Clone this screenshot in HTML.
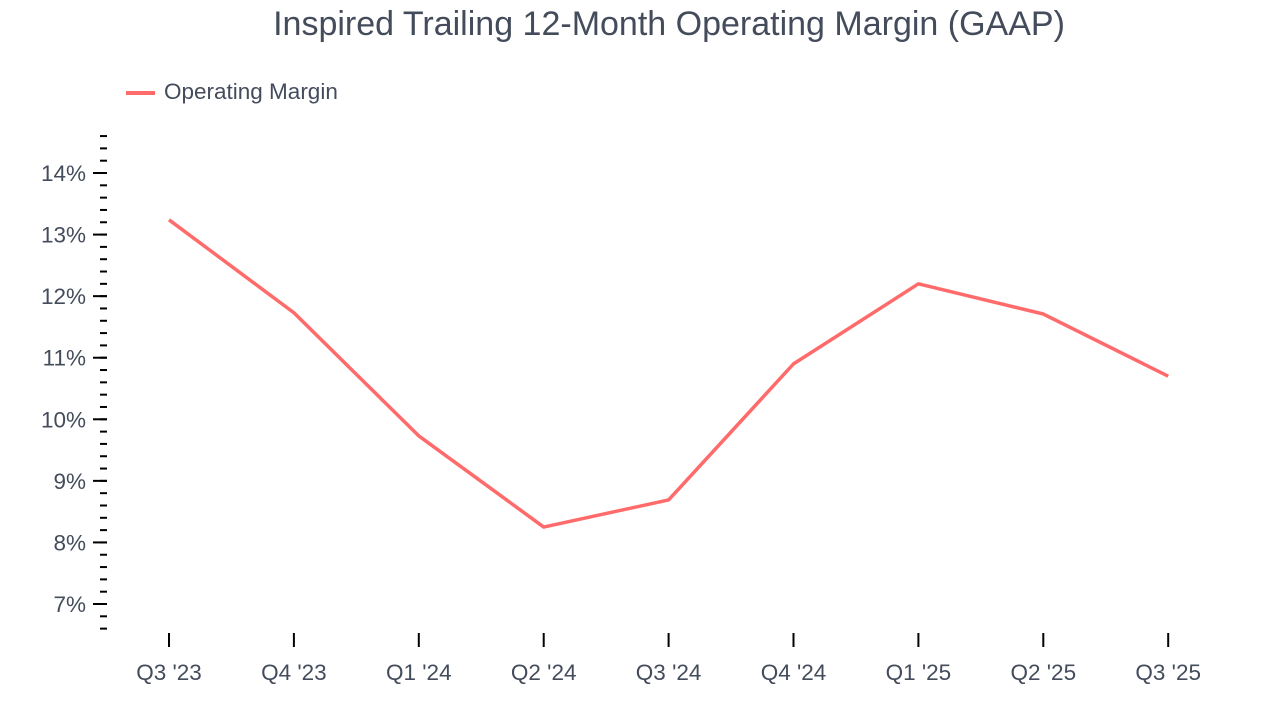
<!DOCTYPE html>
<html><head><meta charset="utf-8"><style>
body{margin:0;background:#fff;font-family:"Liberation Sans",Arial,sans-serif}
svg text{font-family:"Liberation Sans",Arial,sans-serif;fill:#444c5c}
</style></head><body>
<svg id="c" width="1280" height="720">
<text x="669" y="35" font-size="34" text-anchor="middle">Inspired Trailing 12-Month Operating Margin (GAAP)</text>
<g>
<line x1="126" y1="93" x2="155" y2="93" stroke="#ff6b6b" stroke-width="4"/>
<text x="164" y="99" font-size="22.5">Operating Margin</text>
</g>
<g id="yaxis"></g>
<g id="xaxis"></g>
<path id="line" fill="none" stroke="#ff6b6b" stroke-width="3.5" stroke-linejoin="round"/>
</svg>
<script>
const categories=["Q3 '23","Q4 '23","Q1 '24","Q2 '24","Q3 '24","Q4 '24","Q1 '25","Q2 '25","Q3 '25"];
const marginValues=[13.24,11.73,9.73,8.25,8.69,10.90,12.20,11.71,10.70];
const yTicks=[7,8,9,10,11,12,13,14];
const NS="http://www.w3.org/2000/svg";
const y=v=>604-(v-7)*61.57;
const x=i=>169+i*124.9;
function el(t,a,p){const e=document.createElementNS(NS,t);for(const k in a)e.setAttribute(k,a[k]);p.appendChild(e);return e;}
const ya=document.getElementById('yaxis');
for(let k=0;k<=40;k++){const v=6.6+k*0.2;
 const l=el('line',{x1:100,x2:107,y1:y(v),y2:y(v),stroke:'#000','stroke-width':2},ya);
 
 }
yTicks.forEach(v=>{
 const l=el('line',{x1:93,x2:107,y1:y(v),y2:y(v),stroke:'#000','stroke-width':2},ya);
 
 
 const t=el('text',{x:86,y:y(v)+8,'font-size':22.5,'text-anchor':'end'},ya);t.textContent=v+'%';
 
 });
const xa=document.getElementById('xaxis');
categories.forEach((c,i)=>{
 const l=el('line',{x1:x(i),x2:x(i),y1:633,y2:647,stroke:'#000','stroke-width':2},xa);
 
 
 const t=el('text',{x:x(i),y:680,'font-size':22.5,'text-anchor':'middle'},xa);t.textContent=c;
 
 });
document.getElementById('line').setAttribute('d',marginValues.map((v,i)=>(i?'L':'M')+x(i)+','+y(v)).join(''));
</script>
</body></html>
